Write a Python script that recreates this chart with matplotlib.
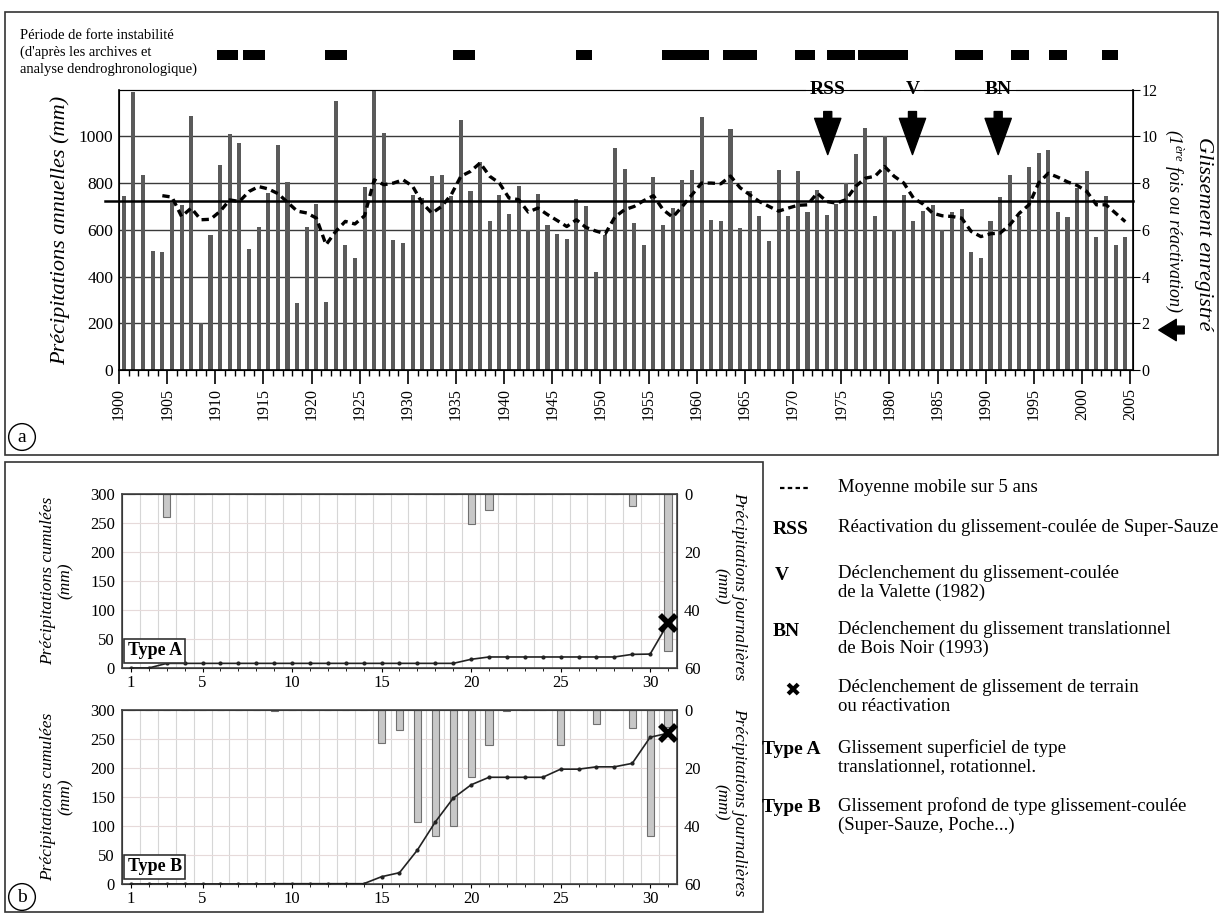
import numpy as np
import matplotlib.pyplot as plt
from matplotlib.patches import Rectangle, FancyArrowPatch
from matplotlib.lines import Line2D

plt.rcParams['font.family'] = ['Liberation Serif', 'DejaVu Serif']
plt.rcParams['mathtext.fontset'] = 'custom'
plt.rcParams['mathtext.rm'] = 'Liberation Serif'
plt.rcParams['mathtext.it'] = 'Liberation Serif:italic'

# --- panel a data: annual precipitation (mm), 1900-2004
years = np.arange(1900, 2005)
precip = [743, 1190, 836, 510, 503, 714, 705, 1086, 200, 579,
          879, 1012, 971, 517, 610, 757, 961, 806, 286, 610,
          711, 292, 1150, 536, 481, 785, 1200, 1015, 557, 543,
          748, 735, 829, 833, 745, 1071, 767, 889, 639, 750,
          667, 786, 598, 754, 619, 581, 560, 733, 703, 419,
          579, 952, 862, 631, 537, 828, 622, 694, 812, 855,
          1081, 642, 637, 1030, 608, 764, 660, 550, 855, 658,
          853, 678, 771, 665, 711, 800, 925, 1035, 658, 1000,
          600, 748, 636, 680, 707, 598, 677, 687, 503, 481,
          636, 740, 833, 660, 870, 930, 940, 676, 655, 778,
          850, 569, 743, 536, 569]
# 5-year moving average, 1904-2004
ma_years = np.arange(1904, 2005)
moving_avg = [746, 740, 657, 693, 643, 645, 679, 728, 721, 764,
              785, 775, 755, 718, 680, 672, 650, 536, 593, 636,
              625, 660, 814, 793, 800, 814, 786, 714, 671, 700,
              750, 829, 850, 886, 829, 800, 736, 729, 676, 693,
              665, 640, 614, 643, 610, 595, 583, 655, 686, 700,
              725, 746, 686, 654, 700, 750, 800, 800, 797, 830,
              780, 750, 721, 700, 680, 693, 705, 707, 757, 721,
              714, 729, 786, 821, 829, 871, 829, 800, 736, 710,
              671, 660, 657, 650, 593, 571, 583, 586, 621, 671,
              707, 800, 842, 825, 805, 790, 764, 707, 707, 671, 635]
mean_precip = 725
# periods of strong instability (start, end years)
unstable_start = [1910.2, 1912.9, 1921.4, 1934.7, 1947.5, 1956.4, 1962.7,
                  1970.2, 1973.5, 1976.7, 1986.8, 1992.6, 1996.6, 2002.1]
unstable_end = [1912.4, 1915.2, 1923.7, 1937.0, 1949.1, 1961.3, 1966.3,
                1972.3, 1976.4, 1981.9, 1989.7, 1994.5, 1998.4, 2003.7]
events = ['RSS', 'V', 'BN']
event_years = [1973.6, 1982.4, 1991.3]

# --- panel b data: days of the month
days = np.arange(1, 32)
daily_a = [0, 0, 8, 0, 0, 0, 0, 0, 0, 0, 0, 0, 0, 0, 0, 0, 0, 0, 0, 10.2,
           5.6, 0, 0, 0, 0, 0, 0, 0, 4.3, 0, 54.3]
cumul_a = [0, 0, 8, 8, 8, 8, 8, 8, 8, 8, 8, 8, 8, 8, 8, 8, 8, 8, 8, 15,
           19, 19, 19, 19, 19, 19, 19, 19, 23.5, 24, 77]
daily_b = [0, 0, 0, 0, 0, 0, 0, 0, 0.5, 0, 0, 0, 0, 0, 11.3, 6.9, 38.5, 43.3,
           39.9, 23, 12.2, 0.3, 0, 0, 12.1, 0, 4.9, 0, 6.1, 43.3, 5.7]
cumul_b = [0, 0, 0, 0, 0, 0, 0, 0, 0.5, 0.5, 0.5, 0.5, 0.5, 0.5, 12.6, 19.5,
           58.6, 107, 148, 171, 184, 184, 184, 184, 198, 198, 202, 202, 208,
           253, 260]

# legend texts
legend_keys = ['RSS', 'V', 'BN', '✖', 'Type A', 'Type B']
legend_text = ['Réactivation du glissement-coulée de Super-Sauze',
               'Déclenchement du glissement-coulée\nde la Valette (1982)',
               'Déclenchement du glissement translationnel\nde Bois Noir (1993)',
               'Déclenchement de glissement de terrain\nou réactivation',
               'Glissement superficiel de type\ntranslationnel, rotationnel.',
               'Glissement profond de type glissement-coulée\n(Super-Sauze, Poche...)']

W, H = 1222, 915
def fx(px):
    return px / W
def fy(py):
    return 1 - py / H

fig = plt.figure(figsize=(12.22, 9.15), dpi=100)

# panel frames
fig.add_artist(Rectangle((fx(5), fy(455)), fx(1213), (455 - 12) / H, transform=fig.transFigure,
                         fill=False, ec='#333333', lw=1.2))
fig.add_artist(Rectangle((fx(5), fy(912)), fx(758), (912 - 462) / H, transform=fig.transFigure,
                         fill=False, ec='#333333', lw=1.2))

# ================= panel a
ax = fig.add_axes([fx(119), fy(370), (1133 - 119) / W, (370 - 89.6) / H])
ax.bar(years + 0.5, precip, width=0.42, color='#5a5a5a', zorder=2)
for v in range(200, 1001, 200):
    ax.axhline(v, color='#3a3a3a', lw=1.0, zorder=1)
ax.axhline(mean_precip, xmin=-0.014, color='black', lw=1.8, zorder=3, clip_on=False)
ax.plot(ma_years + 0.5, moving_avg, color='black', lw=2.4, ls=(0, (2.2, 1.4)), zorder=4)
ax.set_xlim(1900, 2005.3)
ax.set_ylim(0, 1200)
ax.set_yticks(range(0, 1001, 200))
ax.tick_params(axis='y', length=0, labelsize=12.5, pad=4)
ax.set_xticks(range(1900, 2006, 5))
ax.set_xticks(range(1900, 2006), minor=True)
ax.tick_params(axis='x', which='major', direction='out', length=10, width=1.2, labelsize=11.5,
               labelrotation=90, pad=3)
ax.tick_params(axis='x', which='minor', direction='out', length=4, width=1)
for s in ['left', 'bottom', 'right']:
    ax.spines[s].set_color('black')
    ax.spines[s].set_linewidth(1.2)
ax.spines['top'].set_color('#444444')

axr = ax.twinx()
axr.set_ylim(0, 12)
axr.set_yticks(range(0, 13, 2))
axr.tick_params(axis='y', direction='out', length=5, labelsize=11.5, pad=1)

# instability periods above the plot
ax.broken_barh([(s, e - s) for s, e in zip(unstable_start, unstable_end)], (1327, 43),
               facecolor='black', clip_on=False, zorder=5)

# event labels and arrows
for name, yr in zip(events, event_years):
    ax.text(yr, 1200, name, ha='center', va='center', fontsize=14, fontweight='bold',
            bbox=dict(fc='white', ec='none', pad=3), zorder=6, clip_on=False)
    ax.add_artist(FancyArrowPatch((yr, 1118), (yr, 910),
                                  arrowstyle='simple,head_width=1.05,head_length=1.45,tail_width=0.32',
                                  mutation_scale=18, color='black', zorder=6))

fig.text(fx(20), fy(29), "Période de forte instabilité\n(d'après les archives et\nanalyse dendroghronologique)",
         va='top', ha='left', fontsize=10.5, linespacing=1.35)
fig.text(fx(60), fy(230), 'Précipitations annuelles (mm)', rotation=90, ha='center', va='center',
         fontsize=16, fontstyle='italic')
fig.text(fx(1203), fy(234), 'Glissement enregistré', rotation=-90, ha='center', va='center',
         fontsize=16, fontstyle='italic')
fig.text(fx(1174), fy(221), '(1$^{\\mathit{ère}}$ fois ou réactivation)', rotation=-90, ha='center',
         va='center', fontsize=13, fontstyle='italic')
fig.add_artist(FancyArrowPatch((fx(1187), fy(330)), (fx(1156), fy(330)), transform=fig.transFigure,
                               arrowstyle='simple,head_width=1.1,head_length=0.9,tail_width=0.4',
                               mutation_scale=14, color='black'))
fig.text(fx(22), fy(437), 'a', ha='center', va='center', fontsize=14,
         bbox=dict(boxstyle='circle,pad=0.25', fc='white', ec='black', lw=1))

# ================= panel b
AX_L, AX_R = 122, 677

def day_panel(top, daily, cumul, label):
    bottom = top + 174
    rect = [fx(AX_L), fy(bottom), (AX_R - AX_L) / W, 174 / H]
    axd = fig.add_axes(rect)
    axd.set_ylim(60, 0)
    axd.set_xlim(0.5, 31.5)
    for d in days:
        axd.axvline(d + 0.5, color='#d6d6d6', lw=0.8, zorder=0)
    for v in range(10, 51, 10):
        axd.axhline(v, color='#e6dada', lw=0.8, zorder=0)
    axd.bar(days, daily, width=0.4, color='#c8c8c8', edgecolor='#707070', lw=0.8, zorder=2)
    axd.set_yticks([0, 20, 40, 60])
    axd.yaxis.tick_right()
    axd.tick_params(axis='y', length=0, labelsize=12, pad=5)
    axd.set_xticks([])
    axd.tick_params(axis='x', bottom=False, labelbottom=False)

    axc = fig.add_axes(rect)
    axc.patch.set_visible(False)
    axc.plot(days, cumul, color='#222222', lw=1.2, marker='o', ms=2, zorder=3)
    axc.plot(days[-1], cumul[-1], marker='x', ms=11, mew=4, color='black', zorder=4)
    axc.set_xlim(0.5, 31.5)
    axc.set_ylim(0, 300)
    axc.set_yticks(range(0, 301, 50))
    axc.set_xticks([1, 5, 10, 15, 20, 25, 30])
    axc.set_xticks(days, minor=True)
    axc.tick_params(axis='y', length=0, labelsize=12, pad=5)
    axc.tick_params(axis='x', which='major', direction='out', length=3, labelsize=12, pad=2)
    axc.tick_params(axis='x', which='minor', direction='out', length=2)
    for s in axc.spines.values():
        s.set_color('#444444')
        s.set_linewidth(1.2)
    axc.text(0.01, 0.1, label, transform=axc.transAxes, ha='left', va='center', fontsize=13,
             fontweight='bold', bbox=dict(fc='white', ec='#333333', lw=1.2, pad=2.5))
    mid = top + 87
    fig.text(fx(57), fy(mid), 'Précipitations cumulées\n(mm)', rotation=90, ha='center', va='center',
             fontsize=12.5, fontstyle='italic', linespacing=1.15)
    fig.text(fx(730), fy(mid + 5), 'Précipitations journalières\n(mm)', rotation=-90, ha='center',
             va='center', fontsize=12.5, fontstyle='italic', linespacing=1.15)

day_panel(494, daily_a, cumul_a, 'Type A')
day_panel(710, daily_b, cumul_b, 'Type B')
fig.text(fx(22), fy(897), 'b', ha='center', va='center', fontsize=14,
         bbox=dict(boxstyle='circle,pad=0.25', fc='white', ec='black', lw=1))

# ================= legend
TXT_X = 838
fig.add_artist(Line2D([fx(780), fx(810)], [fy(488), fy(488)], transform=fig.transFigure,
                      color='black', lw=1.6, ls=(0, (2, 1.5))))
fig.text(fx(TXT_X), fy(488), 'Moyenne mobile sur 5 ans', va='center', fontsize=13.5)
key_x = [773, 775, 773, 793, 762, 762]
key_y = [530, 576, 632, 690, 750, 808]
for k, kx, ky, t in zip(legend_keys, key_x, key_y, legend_text):
    if k == '✖':
        fig.text(fx(kx), fy(ky), k, ha='center', va='center', fontsize=14, family='DejaVu Sans')
    else:
        fig.text(fx(kx), fy(ky), k, va='center', fontsize=14, fontweight='bold')
    fig.text(fx(TXT_X), fy(ky - 11), t, va='top', fontsize=13.5, linespacing=1.12)

fig.savefig('out.png', dpi=100)
